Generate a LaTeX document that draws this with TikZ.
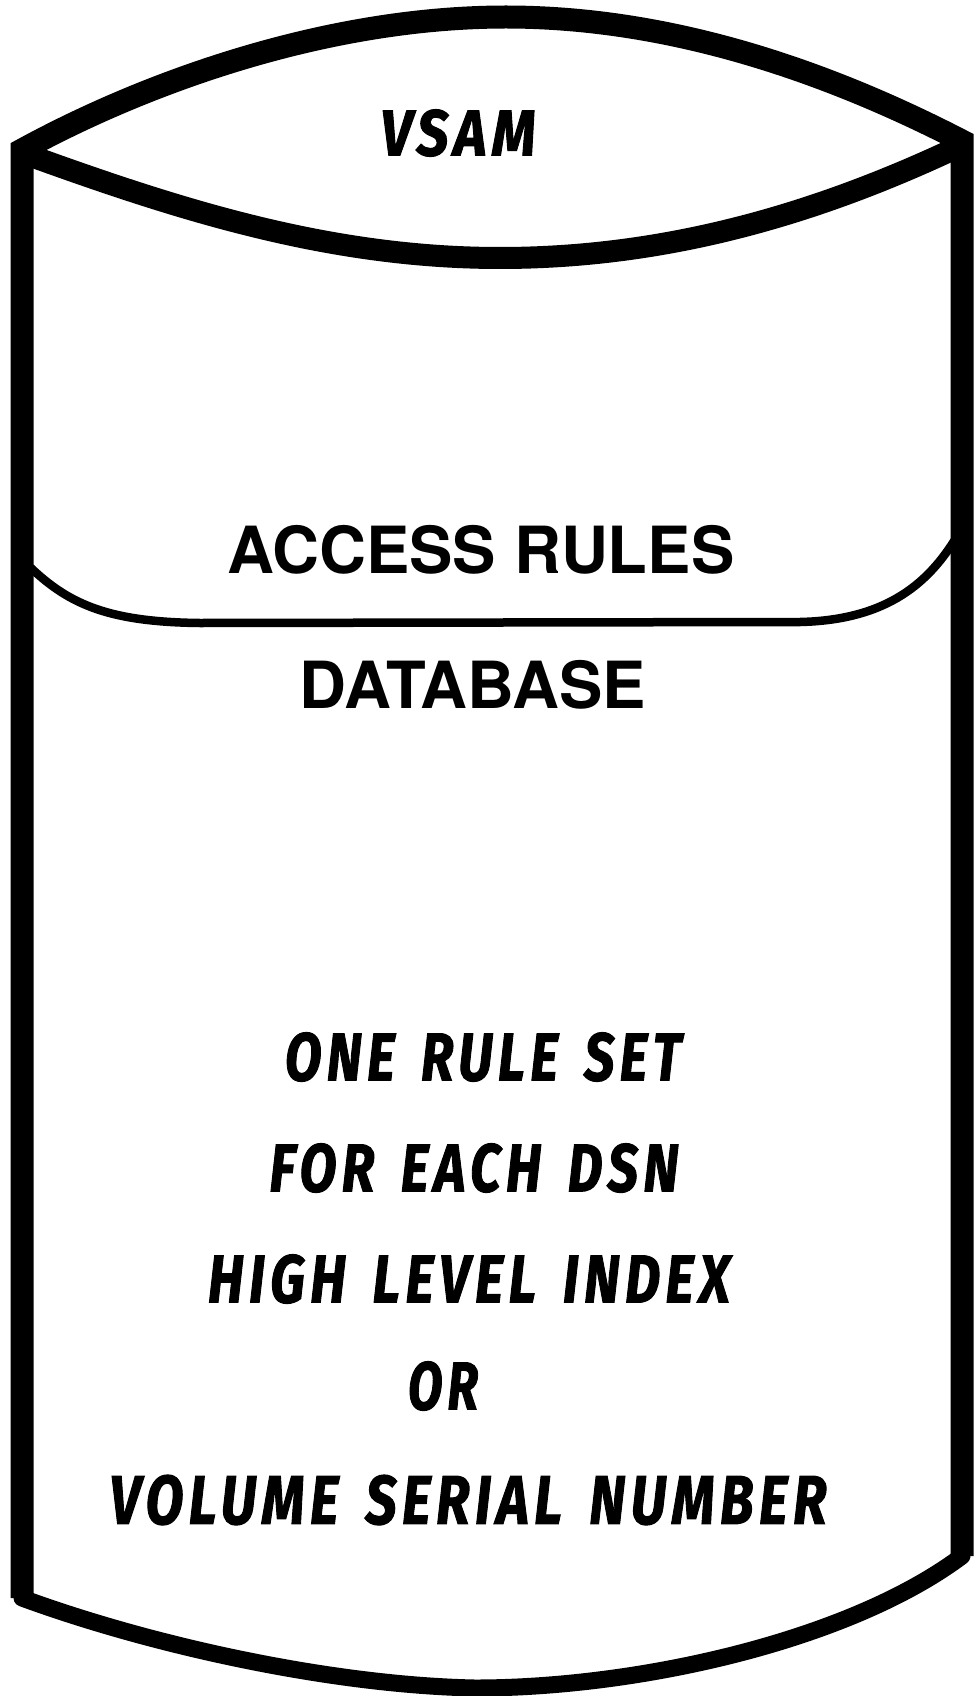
\documentclass[tikz,border=0pt]{standalone}
\usepackage{fontspec}
\usepackage{graphicx}
\newfontfamily\helvfont{TeX Gyre Heros}
\newfontfamily\handfont[BoldItalicFeatures={FakeBold=1.6, LetterSpace=10, WordSpace=1.5}]{Fira Sans}
% hand-lettered caption squeezed to a given width and cap height
\newcommand\handtext[3]{\resizebox{#1pt}{#2pt}{\handfont\bfseries\itshape #3}}
\tikzset{
  wall/.style={line width=23pt, line join=miter},
  rim/.style={line width=22pt, line cap=round},
  band/.style={line width=8.5pt, line cap=round},
  basecurve/.style={line width=17pt, line cap=round},
  printed/.style={inner sep=0pt, font=\helvfont\bfseries\fontsize{65}{65}\selectfont},
  lettered/.style={inner sep=0pt},
}
\begin{document}
\begin{tikzpicture}[x=1pt, y=-1pt]
  \fill[white] (0,0) rectangle (979,1696);
  \useasboundingbox (0,0) rectangle (979,1696);

  % side walls joined by the far rim of the lid
  \draw[wall] (22,1598) -- (22,150)
    .. controls (150,80) and (330,17) .. (506,17)
    .. controls (680,17) and (840,78) .. (962,141)
    -- (962,1556);

  % near rim of the lid
  \draw[rim] (28,155)
    .. controls (180,210) and (330,258) .. (500,258)
    .. controls (670,258) and (820,212) .. (956,148);

  % band below the access rules heading
  \draw[band] (31,568)
    .. controls (70,605) and (110,622) .. (200,623)
    -- (800,622)
    .. controls (890,620) and (930,580) .. (956,538);

  % bottom of the cylinder
  \draw[basecurve] (22,1598)
    .. controls (150,1645) and (330,1685) .. (475,1688)
    .. controls (640,1688) and (850,1640) .. (962,1556);

  % labels
  \node[lettered] (vsam) at (458,133) {\handtext{155}{46}{VSAM}};
  \node[printed] (access) at (481,550) {ACCESS RULES};
  \node[printed] (database) at (473,685) {DATABASE};
  \node[lettered] (ruleset) at (483,1057) {\handtext{396}{48}{ONE RULE SET}};
  \node[lettered] (eachdsn) at (474,1168) {\handtext{409}{48}{FOR EACH DSN}};
  \node[lettered] (hlindex) at (469,1279) {\handtext{522}{48}{HIGH LEVEL INDEX}};
  \node[lettered] (orword) at (443,1386) {\handtext{70}{48}{OR}};
  \node[lettered] (volser) at (468,1500) {\handtext{717}{49}{VOLUME SERIAL NUMBER}};
\end{tikzpicture}
\end{document}
